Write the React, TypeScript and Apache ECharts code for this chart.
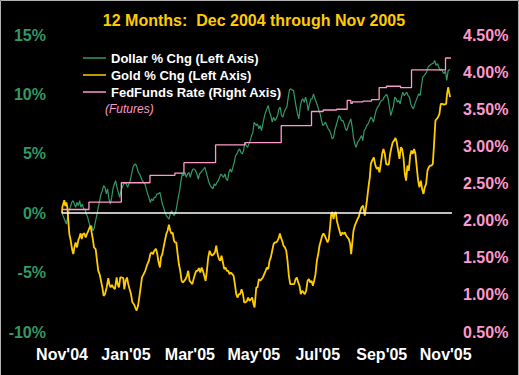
import React, { useEffect, useRef } from 'react';
import * as echarts from 'echarts';

// x values: calendar days counted from 30 Nov 2004
const xTickLabels = ["Nov'04", "Jan'05", "Mar'05", "May'05", "Jul'05", "Sep'05", "Nov'05"];
const xTickStepDays = 61;

const titleText = '12 Months:  Dec 2004 through Nov 2005';
const seriesNames = ['Dollar % Chg (Left Axis)', 'Gold % Chg (Left Axis)', 'FedFunds Rate (Right Axis)'];
const fedNote = '(Futures)';

// Dollar % change (left axis, %)
const dollarPct: [number, number][] = [
  [0, 0.07], [0.3, -0.07], [1.6, -0.35], [2.9, -0.63], [4.1, -0.91], [5.4, -0.35], [6.7, 0.21], [7.9, 0.49], [9.2, 0.9], [10.5, 1.05],
  [11.8, 0.77], [13.0, 0.49], [14.3, 0.9], [15.6, 0.63], [16.8, 1.05], [18.1, 0.49], [19.4, 0.77], [20.7, 0.35], [21.9, 0.35], [23.2, -0.07],
  [24.5, -0.35], [25.7, -0.77], [27.0, -1.2], [28.3, -1.05], [29.6, -1.48], [30.8, -1.2], [32.1, -0.63], [33.4, -0.07], [34.6, 0.49], [35.9, 1.05],
  [37.2, 1.62], [38.5, 1.9], [39.7, 2.32], [41.0, 2.18], [42.3, 1.62], [43.5, 2.04], [44.8, 1.2], [46.1, 0.77], [47.4, 1.33], [48.6, 2.04],
  [49.9, 2.46], [51.2, 2.74], [52.4, 2.18], [53.7, 1.75], [55.0, 1.33], [56.3, 1.9], [57.5, 2.18], [58.8, 2.46], [60.1, 2.6], [61.3, 2.46],
  [62.6, 2.18], [63.9, 2.46], [65.1, 2.74], [66.4, 3.3], [67.7, 3.86], [69.0, 4.09], [70.2, 4.15], [71.5, 3.86], [72.8, 3.44], [74.0, 3.3],
  [75.3, 3.02], [76.6, 2.74], [77.9, 2.6], [79.1, 2.46], [80.4, 2.04], [81.7, 1.62], [82.9, 1.33], [84.2, 0.9], [85.5, 1.2], [86.8, 1.05],
  [88.0, 1.33], [89.3, 1.33], [90.6, 1.62], [91.8, 1.62], [93.4, 1.75], [94.4, 1.33], [95.7, 0.77], [96.9, 0.49], [98.2, 0.07], [99.5, -0.2],
  [100.7, -0.35], [102.0, -0.49], [103.3, -0.07], [104.6, 0.21], [105.8, -0.07], [107.1, -0.2], [108.4, 0.07], [109.6, 0.63], [110.9, 1.33], [112.2, 1.9],
  [113.5, 2.74], [114.7, 3.3], [116.0, 3.16], [117.3, 3.44], [118.5, 3.02], [119.8, 3.3], [121.1, 3.44], [122.3, 3.02], [123.6, 3.44], [124.9, 3.72],
  [126.2, 3.72], [127.4, 3.58], [128.7, 3.3], [130.0, 2.88], [131.2, 3.3], [132.5, 3.44], [133.8, 3.58], [135.1, 3.72], [136.3, 3.86], [137.6, 3.44],
  [138.9, 3.02], [140.1, 2.6], [141.4, 2.32], [142.7, 2.18], [143.9, 2.04], [145.2, 2.46], [146.5, 2.32], [147.8, 2.6], [149.0, 2.74], [150.3, 3.02],
  [151.6, 3.3], [152.8, 3.16], [154.1, 3.02], [155.4, 3.3], [156.7, 2.88], [157.9, 2.74], [159.2, 3.44], [160.5, 3.72], [161.7, 3.44], [163.0, 3.86],
  [164.3, 4.29], [165.6, 4.85], [166.8, 4.99], [168.1, 5.27], [169.4, 5.41], [170.6, 5.13], [171.9, 4.99], [173.2, 5.27], [174.4, 5.97], [175.7, 5.69],
  [177.0, 5.55], [178.3, 5.83], [179.5, 6.11], [180.8, 6.53], [182.1, 6.81], [183.3, 7.66], [185.3, 7.38], [186.5, 7.52], [187.8, 7.1], [189.1, 7.38],
  [190.3, 6.96], [191.6, 7.52], [192.9, 8.08], [194.2, 8.5], [195.4, 8.78], [196.7, 9.06], [198.0, 8.5], [199.2, 8.22], [200.5, 7.66], [201.8, 8.08],
  [203.1, 7.8], [204.3, 7.94], [205.6, 8.22], [206.9, 8.78], [208.1, 8.92], [209.4, 8.22], [210.7, 8.08], [211.9, 8.5], [213.2, 8.78], [214.5, 8.92],
  [215.8, 9.77], [217.0, 10.4], [218.3, 10.47], [219.6, 10.35], [220.8, 10.35], [222.1, 9.63], [223.4, 8.92], [224.7, 8.36], [225.9, 7.94], [227.2, 8.92],
  [228.5, 9.49], [229.7, 9.63], [231.0, 9.34], [232.3, 9.77], [233.6, 9.34], [234.8, 8.64], [236.1, 9.2], [237.4, 9.63], [238.6, 9.63], [239.9, 10.05],
  [241.2, 9.63], [242.5, 9.34], [243.7, 9.06], [245.0, 8.64], [246.3, 8.36], [247.5, 7.8], [248.8, 7.38], [250.1, 7.52], [251.3, 7.66], [252.6, 7.38],
  [253.9, 7.1], [255.2, 6.96], [256.4, 6.68], [257.7, 6.26], [259.0, 6.39], [260.2, 6.96], [261.5, 7.38], [262.8, 7.8], [264.1, 8.22], [265.3, 8.08],
  [266.6, 7.8], [267.9, 7.8], [269.1, 7.52], [270.4, 7.1], [271.7, 6.96], [273.0, 7.38], [274.2, 7.66], [275.5, 7.94], [276.8, 7.24], [278.0, 6.39],
  [279.3, 5.83], [280.6, 5.55], [281.9, 5.97], [283.1, 6.11], [284.1, 6.26], [285.7, 6.53], [286.9, 6.11], [288.2, 6.96], [289.5, 7.1], [290.7, 7.38],
  [292.0, 7.52], [293.3, 7.8], [294.6, 8.08], [295.8, 7.94], [297.1, 7.66], [298.4, 8.22], [299.6, 8.64], [300.9, 8.92], [302.2, 9.06], [303.5, 9.34],
  [304.7, 9.49], [306.0, 9.53], [307.3, 9.77], [308.5, 9.9], [309.8, 9.99], [311.1, 9.63], [312.4, 8.92], [313.6, 8.22], [314.9, 8.64], [316.2, 9.06],
  [317.4, 9.77], [318.7, 9.63], [320.0, 9.34], [321.2, 9.49], [322.5, 9.2], [323.8, 9.77], [325.1, 10.19], [326.3, 9.9], [327.6, 10.05], [328.9, 10.19],
  [330.1, 9.9], [331.4, 9.77], [332.7, 9.2], [334.0, 8.92], [335.2, 8.78], [336.5, 9.2], [337.8, 9.49], [339.0, 9.77], [340.3, 10.05], [341.6, 9.9],
  [342.9, 10.75], [344.1, 11.45], [345.4, 11.59], [346.7, 11.74], [347.9, 11.89], [349.2, 12.3], [350.5, 12.44], [351.7, 12.52], [353.0, 12.58], [354.3, 12.63],
  [355.6, 12.86], [356.8, 12.44], [358.1, 12.58], [359.4, 12.3], [360.6, 12.0], [361.9, 12.16], [363.2, 11.89], [364.5, 11.74], [365.7, 12.0], [367.0, 11.17],
  [368.3, 12.0], [369.5, 12.07], [370.2, 12.07],
];

// Gold % change (left axis, %)
const goldPct: [number, number][] = [
  [0, 0], [0.3, 0.5], [2.2, 1.1], [3.2, 0.6], [4.1, 0.9], [5.1, 0.5], [6.0, -0.63], [7.0, -1.75], [8.3, -2.3], [9.9, -3.16],
  [10.8, -3.44], [11.8, -2.88], [13.0, -2.46], [14.3, -2.88], [15.6, -2.26], [16.5, -2.04], [17.8, -1.7], [18.8, -2.18], [20.0, -1.75], [21.3, -1.7],
  [22.6, -2.04], [23.8, -1.75], [25.1, -1.48], [26.4, -1.2], [27.3, -1.05], [28.3, -1.62], [29.6, -2.3], [30.5, -2.88], [32.1, -3.02], [33.4, -4.0],
  [34.6, -4.85], [35.9, -5.13], [37.2, -5.7], [38.5, -6.25], [39.7, -6.96], [41.0, -6.81], [42.6, -6.25], [44.2, -5.47], [45.1, -5.97], [46.4, -6.25],
  [47.7, -6.03], [48.9, -6.25], [50.5, -6.4], [52.1, -5.4], [53.1, -5.97], [54.3, -6.25], [55.6, -5.41], [56.9, -5.41], [58.5, -5.47], [59.4, -6.4],
  [60.7, -5.69], [62.0, -5.41], [63.2, -5.97], [64.5, -6.4], [65.8, -6.81], [67.1, -7.5], [68.6, -7.66], [69.9, -7.94], [71.2, -8.2], [72.5, -7.8],
  [73.7, -7.1], [75.0, -6.25], [76.3, -5.4], [77.9, -5.13], [79.4, -4.85], [81.4, -4.3], [82.9, -4.0], [84.2, -3.44], [85.5, -3.3], [86.8, -3.44],
  [88.0, -3.16], [89.6, -3.0], [90.9, -3.44], [91.8, -4.0], [93.4, -4.57], [94.4, -3.72], [95.7, -3.44], [96.9, -2.88], [98.2, -2.3], [99.5, -1.75],
  [100.7, -1.48], [102.0, -0.97], [103.3, -1.48], [104.6, -1.75], [105.5, -1.62], [106.8, -2.3], [107.7, -2.46], [109.0, -2.46], [110.3, -3.44], [111.5, -4.3],
  [112.8, -4.85], [114.1, -5.7], [115.4, -5.83], [116.6, -5.7], [117.9, -5.55], [119.2, -5.27], [120.4, -4.85], [121.7, -5.7], [123.0, -5.83], [124.3, -5.97],
  [125.5, -5.55], [126.8, -5.13], [128.1, -4.85], [129.3, -4.85], [130.6, -4.62], [131.9, -4.99], [133.2, -4.57], [134.4, -4.85], [135.7, -5.27], [137.0, -5.7],
  [138.2, -4.85], [139.5, -3.72], [140.8, -3.16], [142.0, -3.44], [143.3, -3.58], [144.6, -3.44], [145.9, -3.3], [147.1, -2.74], [148.4, -3.44], [149.7, -3.86],
  [150.9, -4.0], [152.2, -3.58], [153.5, -4.15], [154.8, -4.71], [156.0, -4.57], [157.3, -4.85], [158.6, -4.85], [159.8, -5.13], [161.1, -4.99], [162.4, -5.13],
  [163.7, -5.27], [164.9, -5.97], [166.2, -6.81], [167.5, -7.1], [168.7, -6.81], [170.0, -6.81], [171.3, -6.4], [172.6, -6.81], [173.8, -7.5], [175.1, -7.5],
  [176.4, -7.38], [177.6, -7.1], [178.9, -7.38], [180.2, -7.24], [181.4, -7.1], [182.7, -7.66], [183.7, -7.94], [185.3, -6.25], [186.5, -6.25], [187.8, -5.55],
  [189.1, -5.69], [190.3, -5.55], [191.6, -5.41], [192.9, -5.13], [194.2, -4.85], [195.4, -4.57], [196.7, -4.71], [198.0, -4.0], [199.2, -3.72], [200.5, -3.16],
  [201.8, -2.6], [203.1, -2.46], [204.3, -2.46], [205.6, -2.32], [206.9, -2.04], [207.8, -1.7], [208.8, -2.04], [210.0, -2.32], [211.3, -2.74], [212.6, -2.88],
  [213.9, -3.16], [215.1, -4.0], [216.4, -5.27], [217.7, -5.97], [218.9, -5.97], [220.2, -5.97], [221.5, -5.97], [222.8, -5.55], [224.0, -5.41], [225.3, -5.83],
  [226.6, -6.11], [227.8, -6.81], [229.1, -6.53], [230.4, -6.67], [231.6, -6.81], [232.9, -6.53], [234.2, -5.69], [235.5, -5.55], [236.7, -5.83], [238.0, -5.69],
  [239.3, -6.11], [240.5, -5.69], [241.8, -5.13], [243.1, -4.0], [244.4, -3.44], [245.6, -2.74], [246.9, -2.32], [248.2, -1.9], [249.4, -1.7], [250.7, -1.9],
  [252.0, -2.18], [253.3, -2.46], [254.5, -2.18], [255.8, -1.05], [256.8, -0.07], [257.7, 0.1], [259.0, -0.49], [259.9, -0.07], [261.2, 0.1], [262.2, -0.63],
  [263.4, -1.05], [264.7, -1.48], [266.0, -1.9], [267.2, -1.62], [268.5, -1.75], [269.8, -1.62], [271.1, -1.9], [272.3, -2.04], [273.6, -2.18], [274.9, -2.6],
  [275.8, -3.44], [276.8, -2.6], [278.0, -1.48], [279.3, -1.05], [280.6, -0.77], [281.9, -0.49], [283.1, -0.3], [284.1, 0.07], [285.7, 0.49], [287.2, 0.63],
  [288.8, -0.2], [290.4, 0.77], [291.4, 1.48], [292.7, 2.46], [293.6, 3.0], [294.6, 4.15], [295.8, 4.43], [297.4, 4.7], [299.0, 4.0], [300.3, 3.72],
  [301.5, 3.86], [302.8, 3.44], [304.1, 4.15], [305.4, 5.0], [306.6, 5.41], [307.9, 5.0], [309.2, 4.15], [310.4, 4.09], [311.7, 4.09], [313.0, 5.0],
  [314.3, 5.55], [315.5, 5.97], [316.8, 6.11], [318.1, 6.34], [319.3, 5.97], [320.6, 5.27], [321.9, 4.57], [323.2, 5.55], [324.4, 5.41], [325.7, 4.71],
  [327.0, 3.3], [328.2, 2.74], [329.5, 4.0], [330.8, 3.58], [332.1, 4.85], [333.3, 5.27], [334.6, 5.0], [335.9, 5.41], [337.1, 5.0], [338.4, 3.86],
  [339.7, 2.74], [340.9, 2.18], [342.2, 2.74], [343.5, 2.04], [344.8, 1.62], [346.0, 2.18], [347.3, 2.46], [348.6, 3.58], [349.8, 3.86], [351.1, 4.0],
  [352.4, 4.0], [353.7, 4.15], [354.9, 5.83], [356.2, 7.8], [357.5, 7.94], [358.7, 8.08], [360.0, 8.36], [361.3, 9.2], [362.6, 9.2], [363.8, 9.15],
  [365.1, 9.15], [366.4, 9.2], [367.3, 10.05], [368.3, 10.6], [369.2, 10.19], [370.2, 9.77],
];

// Fed funds futures rate (right axis, %), value holds from each day until the next
const fedFundsRate: [number, number][] = [
  [0, 2.15], [25.7, 2.25], [56.6, 2.51], [83.9, 2.61], [107.7, 2.64], [116.3, 2.78], [146.5, 3.02], [174.5, 3.05], [209.1, 3.28], [238.0, 3.47],
  [249.1, 3.49], [261.9, 3.5], [272.0, 3.62], [275.5, 3.58], [277.0, 3.6], [287.2, 3.61], [295.2, 3.63], [302.5, 3.79], [309.5, 3.81], [322.9, 3.79],
  [333.4, 4.03], [365.8, 4.19], [371.0, 4.19],
];

const GREEN = '#339966';
const GOLD = '#FFCC00';
const PINK = '#FF99CC';
const FONT = "'Liberation Sans', Arial, Helvetica, sans-serif";

export default function App() {
  const ref = useRef<HTMLDivElement>(null);

  useEffect(() => {
    document.body.style.margin = '0';
    const chart = echarts.init(ref.current!, null, { renderer: 'svg' });
    chart.setOption({
      animation: false,
      backgroundColor: '#000000',
      textStyle: { fontFamily: FONT },
      grid: { left: 62, right: 67, top: 35, bottom: 43 },
      xAxis: {
        type: 'value',
        min: 0,
        max: 372,
        interval: xTickStepDays,
        axisLine: { show: false },
        axisTick: { show: false },
        splitLine: { show: false },
        axisLabel: {
          color: '#FFFFFF',
          fontSize: 16,
          fontWeight: 'bold',
          fontFamily: FONT,
          margin: 14,
          formatter: (v: number) => (v % xTickStepDays === 0 ? xTickLabels[v / xTickStepDays] ?? '' : ''),
        },
      },
      yAxis: [
        {
          type: 'value',
          min: -10,
          max: 15,
          interval: 5,
          position: 'left',
          axisLine: { show: false },
          axisTick: { show: false },
          splitLine: { show: false },
          axisLabel: { color: GREEN, fontSize: 16, fontWeight: 'bold', fontFamily: FONT, margin: 16, formatter: '{value}%' },
        },
        {
          type: 'value',
          min: 0.5,
          max: 4.5,
          interval: 0.5,
          position: 'right',
          axisLine: { show: false },
          axisTick: { show: false },
          splitLine: { show: false },
          axisLabel: {
            color: PINK,
            fontSize: 16,
            fontWeight: 'bold',
            fontFamily: FONT,
            margin: 11,
            formatter: (v: number) => v.toFixed(2) + '%',
          },
        },
      ],
      legend: {
        orient: 'vertical',
        left: 78,
        top: 46,
        itemWidth: 23,
        itemHeight: 1.5,
        itemGap: 3,
        icon: 'rect',
        selectedMode: false,
        data: seriesNames,
        textStyle: { color: '#FFFFFF', fontSize: 13, fontWeight: 'bold', lineHeight: 14, fontFamily: FONT },
      },
      series: [
        {
          name: seriesNames[0],
          type: 'line',
          data: dollarPct,
          symbol: 'none',
          lineStyle: { color: GREEN, width: 1.2 },
          itemStyle: { color: GREEN },
        },
        {
          name: seriesNames[1],
          type: 'line',
          data: goldPct,
          symbol: 'none',
          lineStyle: { color: GOLD, width: 1.8 },
          itemStyle: { color: GOLD },
          markLine: {
            silent: true,
            symbol: 'none',
            label: { show: false },
            lineStyle: { color: '#FFFFFF', width: 1.5, type: 'solid' },
            data: [{ yAxis: 0 }],
          },
        },
        {
          name: seriesNames[2],
          type: 'line',
          yAxisIndex: 1,
          step: 'end',
          data: fedFundsRate,
          symbol: 'none',
          lineStyle: { color: PINK, width: 1.3 },
          itemStyle: { color: PINK },
        },
      ],
      graphic: [
        {
          type: 'text',
          x: 254,
          y: 20,
          style: {
            text: titleText,
            fill: GOLD,
            fontSize: 16,
            fontWeight: 'bold',
            fontFamily: FONT,
            textAlign: 'center',
            textVerticalAlign: 'middle',
          },
        },
        {
          type: 'text',
          x: 105,
          y: 109,
          style: {
            text: fedNote,
            fill: PINK,
            fontSize: 12,
            fontStyle: 'italic',
            fontFamily: FONT,
            textAlign: 'left',
            textVerticalAlign: 'middle',
          },
        },
        {
          type: 'rect',
          shape: { x: 0.5, y: 0.5, width: 518, height: 380 },
          style: { fill: 'none', stroke: '#B0B0B0', lineWidth: 1 },
          silent: true,
        },
      ],
    });
    return () => chart.dispose();
  }, []);

  return <div ref={ref} style={{ width: 519, height: 375 }} />;
}
